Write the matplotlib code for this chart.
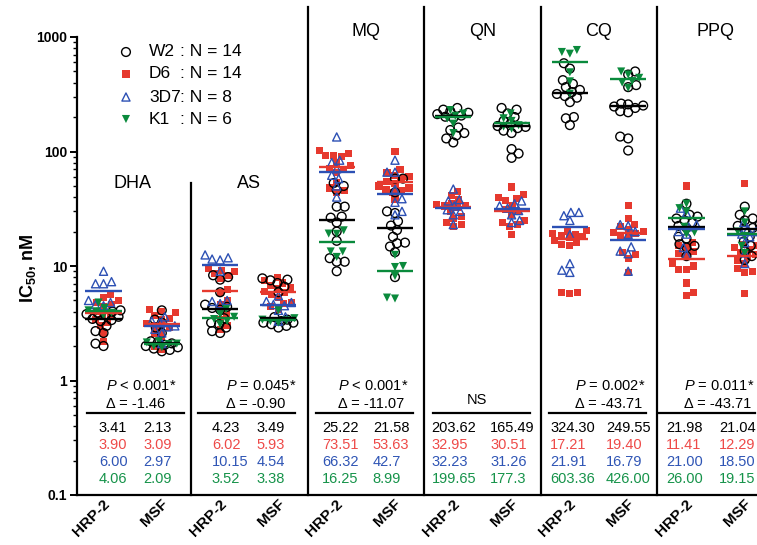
import numpy as np
import matplotlib
matplotlib.use("Agg")
import matplotlib.pyplot as plt
from matplotlib.transforms import blended_transform_factory, ScaledTranslation

plt.rcParams['font.family'] = ['Liberation Sans', 'DejaVu Sans']
plt.rcParams['mathtext.fontset'] = 'custom'
plt.rcParams['mathtext.rm'] = 'Liberation Sans'
plt.rcParams['mathtext.it'] = 'Liberation Sans:italic'
plt.rcParams['mathtext.bf'] = 'Liberation Sans:bold'

# ---------------- data ----------------
DRUGS = ["DHA", "AS", "MQ", "QN", "CQ", "PPQ"]
SAMPLES = ["HRP-2", "MSF"]
STRAINS = ["W2", "D6", "3D7", "K1"]
STRAIN_N = ["14", "14", "8", "6"]

DHA_HRP2_W2 = [4.1, 4.0, 3.9, 3.8, 3.7, 3.6, 3.45, 3.37, 3.3, 3.0, 2.7, 2.6, 2.1, 2.0]
DHA_HRP2_D6 = [5.6, 5.3, 5.0, 4.8, 4.6, 4.4, 4.0, 3.8, 3.6, 3.4, 3.2, 3.0, 2.6, 2.2]
DHA_HRP2_3D7 = [9.0, 7.3, 7.0, 7.0, 5.0, 4.8, 4.6, 4.5]
DHA_HRP2_K1 = [4.8, 4.3, 4.1, 4.02, 3.9, 3.7]
DHA_MSF_W2 = [4.1, 3.4, 3.2, 2.9, 2.6, 2.2, 2.15, 2.11, 2.05, 2.0, 1.95, 1.9, 1.85, 1.8]
DHA_MSF_D6 = [4.2, 4.0, 3.9, 3.7, 3.5, 3.4, 3.13, 3.05, 2.9, 2.8, 2.6, 2.4, 2.0, 1.85]
DHA_MSF_3D7 = [3.6, 3.3, 3.2, 3.0, 2.94, 2.8, 2.6, 2.1]
DHA_MSF_K1 = [2.2, 2.15, 2.1, 2.08, 2.0, 1.95]

AS_HRP2_W2 = [8.3, 8.0, 7.6, 5.9, 4.6, 4.4, 4.3, 4.16, 3.5, 3.2, 3.1, 2.9, 2.7, 2.6]
AS_HRP2_D6 = [9.5, 9.2, 9.0, 8.6, 8.2, 7.8, 6.2, 5.84, 5.0, 4.6, 3.8, 3.4, 3.0, 2.8]
AS_HRP2_3D7 = [12.5, 11.8, 11.5, 11.3, 9.0, 5.0, 4.9, 4.7]
AS_HRP2_K1 = [4.2, 3.8, 3.6, 3.44, 3.3, 3.1]
AS_MSF_W2 = [7.8, 7.6, 7.5, 7.1, 6.6, 5.9, 3.58, 3.4, 3.3, 3.2, 3.2, 3.1, 3.0, 2.9]
AS_MSF_D6 = [8.0, 7.5, 7.1, 6.8, 6.5, 6.3, 6.0, 5.9, 5.6, 5.3, 4.8, 4.7, 4.4, 4.2]
AS_MSF_3D7 = [5.5, 4.9, 4.8, 4.6, 4.5, 4.1, 3.6, 3.3]
AS_MSF_K1 = [4.1, 3.5, 3.4, 3.35, 3.3, 3.2]

MQ_HRP2_W2 = [53, 50, 46, 33, 33, 27, 26.44, 24, 20, 16.6, 11.7, 10.9, 10.9, 9.0]
MQ_HRP2_D6 = [102, 96, 93, 93, 90, 80, 76, 71, 70, 66, 54, 48, 46, 44]
MQ_HRP2_3D7 = [134, 84, 80, 70.6, 62, 58, 50, 40]
MQ_HRP2_K1 = [20.5, 19.2, 19.1, 13.4, 13.4, 12]
MQ_MSF_W2 = [58, 58, 44, 30, 29, 24.6, 22.56, 20.6, 18, 16, 15.8, 14.8, 13.2, 8]
MQ_MSF_D6 = [100, 69, 66, 62, 60, 58, 55, 52.26, 50, 48, 47, 46, 44, 38]
MQ_MSF_3D7 = [84, 66, 66, 46.7, 38.7, 36, 30, 28]
MQ_MSF_K1 = [12.5, 10, 9.8, 8.18, 5.3, 5.2]

QN_HRP2_W2 = [240, 232, 225, 218, 212, 206, 201.24, 196, 162, 154, 145, 138, 130, 120]
QN_HRP2_D6 = [45, 41, 38, 35, 34.5, 34, 33.4, 32.5, 30, 27, 26, 24, 23, 22]
QN_HRP2_3D7 = [47, 38, 37, 33.46, 31, 30, 28, 23]
QN_HRP2_K1 = [230, 215, 205, 194.3, 175, 145]
QN_MSF_W2 = [240, 232, 215, 200, 185, 175, 166.98, 164, 160, 152, 145, 105, 96, 88]
QN_MSF_D6 = [49, 42, 40, 39, 37, 34, 31.22, 29.8, 28, 25, 24, 23, 22, 19]
QN_MSF_3D7 = [37, 35, 33.5, 32.02, 30.5, 28, 25, 24]
QN_MSF_K1 = [215, 195, 185, 169.6, 165, 158]

CQ_HRP2_W2 = [590, 530, 420, 390, 365, 345, 330.6, 318, 305, 295, 270, 200, 195, 170]
CQ_HRP2_D6 = [20.5, 20, 19.4, 19, 18.5, 18, 17.6, 16.82, 16.2, 15.5, 15, 5.9, 5.9, 5.8]
CQ_HRP2_3D7 = [29.4, 29.4, 27.5, 25, 18.82, 10.5, 9.2, 8.8]
CQ_HRP2_K1 = [770, 740, 715, 491.7, 410, 320]
CQ_MSF_W2 = [500, 470, 380, 365, 262, 258, 252, 247.1, 240, 225, 220, 135, 130, 102]
CQ_MSF_D6 = [34, 26, 23, 22, 21, 20, 19.7, 19.1, 18.5, 18, 13, 12.6, 11.7, 8.8]
CQ_MSF_3D7 = [23, 22.5, 20, 18.88, 14.7, 13.5, 12.8, 9]
CQ_MSF_K1 = [500, 470, 440, 412, 400, 360]

PPQ_HRP2_W2 = [35, 28, 27, 26, 25, 24, 22.4, 21.56, 18, 17.4, 15.5, 15, 14.5, 12.2]
PPQ_HRP2_D6 = [50, 16, 15, 14.5, 13.5, 12.8, 12.4, 10.42, 10, 9.4, 9.4, 7.1, 5.9, 5.5]
PPQ_HRP2_3D7 = [32, 29, 23, 22, 20, 19, 14.5, 12.6]
PPQ_HRP2_K1 = [35, 32, 30, 22, 19.7, 19]
PPQ_MSF_W2 = [33, 28, 26, 25, 23, 22.4, 21.5, 20.58, 18, 16.4, 15, 13.5, 12.2, 11.3]
PPQ_MSF_D6 = [53, 15.5, 15, 14.5, 14, 13, 12.5, 12.08, 11.2, 10.5, 9.5, 9, 8.8, 5.8]
PPQ_MSF_3D7 = [24, 21, 20, 19, 18, 16, 13, 10.5]
PPQ_MSF_K1 = [30, 24, 20, 18.3, 15, 13]

# medians (table values), order: DHA HRP-2, DHA MSF, AS HRP-2, AS MSF, ...
MED_W2 = ["3.41", "2.13", "4.23", "3.49", "25.22", "21.58", "203.62", "165.49", "324.30", "249.55", "21.98", "21.04"]
MED_D6 = ["3.90", "3.09", "6.02", "5.93", "73.51", "53.63", "32.95", "30.51", "17.21", "19.40", "11.41", "12.29"]
MED_3D7 = ["6.00", "2.97", "10.15", "4.54", "66.32", "42.7", "32.23", "31.26", "21.91", "16.79", "21.00", "18.50"]
MED_K1 = ["4.06", "2.09", "3.52", "3.38", "16.25", "8.99", "199.65", "177.3", "603.36", "426.00", "26.00", "19.15"]

P_TEXT = ["< 0.001*", "= 0.045*", "< 0.001*", None, "= 0.002*", "= 0.011*"]
DELTA_TEXT = ["-1.46", "-0.90", "-11.07", None, "-43.71", "-43.71"]

COLUMNS = [
    [DHA_HRP2_W2, DHA_HRP2_D6, DHA_HRP2_3D7, DHA_HRP2_K1],
    [DHA_MSF_W2, DHA_MSF_D6, DHA_MSF_3D7, DHA_MSF_K1],
    [AS_HRP2_W2, AS_HRP2_D6, AS_HRP2_3D7, AS_HRP2_K1],
    [AS_MSF_W2, AS_MSF_D6, AS_MSF_3D7, AS_MSF_K1],
    [MQ_HRP2_W2, MQ_HRP2_D6, MQ_HRP2_3D7, MQ_HRP2_K1],
    [MQ_MSF_W2, MQ_MSF_D6, MQ_MSF_3D7, MQ_MSF_K1],
    [QN_HRP2_W2, QN_HRP2_D6, QN_HRP2_3D7, QN_HRP2_K1],
    [QN_MSF_W2, QN_MSF_D6, QN_MSF_3D7, QN_MSF_K1],
    [CQ_HRP2_W2, CQ_HRP2_D6, CQ_HRP2_3D7, CQ_HRP2_K1],
    [CQ_MSF_W2, CQ_MSF_D6, CQ_MSF_3D7, CQ_MSF_K1],
    [PPQ_HRP2_W2, PPQ_HRP2_D6, PPQ_HRP2_3D7, PPQ_HRP2_K1],
    [PPQ_MSF_W2, PPQ_MSF_D6, PPQ_MSF_3D7, PPQ_MSF_K1],
]
MEDIANS = [MED_W2, MED_D6, MED_3D7, MED_K1]

# ---------------- styles ----------------
RED = '#E6392E'
BLUE = '#2C50B4'
GREEN = '#0A8A3C'
TXT_COLORS = ['black', '#EE4A48', '#2F55B5', '#16934A']
STYLES = [
    dict(marker='o', s=40, facecolors='none', edgecolors='black', linewidths=1.0, zorder=3),
    dict(marker='s', s=26, facecolors=RED, edgecolors='none', zorder=2),
    dict(marker='^', s=34, facecolors='none', edgecolors=BLUE, linewidths=1.0, zorder=4),
    dict(marker='v', s=34, facecolors=GREEN, edgecolors='none', zorder=5),
]
LINE_COLORS = ['black', RED, BLUE, GREEN]

PX_X = 58.3    # px per x unit
PX_Y = 114.5   # px per decade


def swarm(values, seed_sign=1, min_d=7.5, max_off=17):
    ys = PX_Y * np.log10(np.asarray(values, float))
    order = np.argsort(ys)
    placed = []
    offs = np.zeros(len(ys))
    for k, i in enumerate(order):
        sgn = seed_sign if k % 2 == 0 else -seed_sign
        cands = sorted(np.arange(-max_off, max_off + 0.1, 1.0), key=lambda c: (abs(c), -sgn * c))
        best_c, best_d = 0.0, -1.0
        for c in cands:
            if placed:
                d = min((c - xo) ** 2 + (ys[i] - yo) ** 2 for xo, yo in placed)
            else:
                d = np.inf
            if d >= min_d ** 2:
                best_c = c
                break
            if d > best_d:
                best_d, best_c = d, c
        placed.append((best_c, ys[i]))
        offs[i] = best_c
    return offs / PX_X


W, H = 757, 545
fig = plt.figure(figsize=(W / 100, H / 100), dpi=100)
ax = fig.add_axes([77 / W, 50 / H, (W - 77) / W, 488 / H])
ax.set_yscale('log')
ax.set_ylim(0.1, 10 ** ((495 - 7) / PX_Y - 1))
ax.set_xlim(0.045, 11.71)

for spine in ['top', 'right']:
    ax.spines[spine].set_visible(False)
ax.spines['left'].set_bounds(0.1, 1000)
ax.spines['left'].set_linewidth(1.6)
ax.spines['bottom'].set_linewidth(1.6)

ax.set_yticks([0.1, 1, 10, 100, 1000])
ax.set_yticklabels(['0.1', '1', '10', '100', '1000'], fontweight='bold', fontsize=10)
ax.tick_params(axis='y', which='major', length=5, width=1.4, pad=2)
ax.tick_params(axis='y', which='minor', length=3, width=1.0)

centers = []
for k in range(len(DRUGS)):
    centers += [2 * k + 0.5, 2 * k + 1.5]
ax.set_xticks(centers)
ax.set_xticklabels(SAMPLES * len(DRUGS), rotation=45, ha='right', va='center',
                   rotation_mode='anchor', fontweight='bold', fontsize=11)
ax.tick_params(axis='x', length=0, pad=5)
shift = ScaledTranslation(4 / 100, 0, fig.dpi_scale_trans)
for lab in ax.get_xticklabels():
    lab.set_transform(lab.get_transform() + shift)

# points and median lines
for ci, col in enumerate(COLUMNS):
    xc = centers[ci]
    for si, vals in enumerate(col):
        offs = swarm(vals, seed_sign=1 if (si + ci) % 2 == 0 else -1)
        ax.scatter(xc + offs, vals, **STYLES[si])
    for si in range(4):
        m = float(MEDIANS[si][ci])
        ax.plot([xc - 0.31, xc + 0.31], [m, m], color=LINE_COLORS[si], lw=1.7,
                zorder=6, solid_capstyle='butt')

# dividers
tr = blended_transform_factory(ax.transData, ax.transAxes)
for k in range(1, len(DRUGS)):
    top = (495 - 183) / 488 if k == 1 else 1.0
    ax.plot([2 * k, 2 * k], [0, top], transform=tr, color='black', lw=1.6, clip_on=False)

# drug names
for k, d in enumerate(DRUGS):
    yy = (495 - 183) / 488 if k < 2 else (495 - 31) / 488
    ax.text(2 * k + 1, yy, d, transform=tr, ha='center', va='center', fontsize=13)

# summary table
P_OFF = [0.54, 0.60, 0.52, None, 0.59, 0.46]
SEP_OFF = [0.216, 0.12, 0.144, 0.151, 0.141, 0.01]
COL_OFF_H = [0.42, 0.36, 0.25, 0.13, 0.16, 0.15]
COL_OFF_M = [1.19, 1.13, 1.12, 1.13, 1.12, 1.06]
fy = lambda py: (495 - py) / 488
ROW_Y = [428, 445, 462, 479]
for k in range(len(DRUGS)):
    x0 = 2 * k
    if P_TEXT[k] is not None:
        ax.text(x0 + P_OFF[k], fy(386), r'$P$ ' + P_TEXT[k], transform=tr,
                ha='left', va='center', fontsize=10.5)
        ax.text(x0 + P_OFF[k], fy(404), '\u0394 = ' + DELTA_TEXT[k], transform=tr,
                ha='left', va='center', fontsize=10.5)
    else:
        ax.text(x0 + 0.91, fy(400), 'NS', transform=tr, ha='center', va='center', fontsize=10.5)
    ax.plot([x0 + SEP_OFF[k], x0 + SEP_OFF[k] + 1.66], [fy(413), fy(413)], transform=tr,
            color='black', lw=1.6, clip_on=True)
    for si in range(4):
        ax.text(x0 + COL_OFF_H[k], fy(ROW_Y[si]), MEDIANS[si][2 * k], transform=tr,
                ha='left', va='center', fontsize=10.5, color=TXT_COLORS[si])
        ax.text(x0 + COL_OFF_M[k], fy(ROW_Y[si]), MEDIANS[si][2 * k + 1], transform=tr,
                ha='left', va='center', fontsize=10.5, color=TXT_COLORS[si], clip_on=False)

# legend
LEG_Y = [52, 74, 97, 119]
for si, name in enumerate(STRAINS):
    st = dict(STYLES[si])
    st['zorder'] = 7
    ax.scatter([0.885], [fy(LEG_Y[si])], transform=tr, clip_on=False, **st)
    ax.text(1.28, fy(LEG_Y[si]), name, transform=tr, ha='left', va='center', fontsize=12.5)
    ax.text(1.82, fy(LEG_Y[si]), ': N = ' + STRAIN_N[si], transform=tr, ha='left',
            va='center', fontsize=12.5)

fig.text(28 / W, 1 - 268 / H, r'IC$_{\mathbf{50}}$, nM', rotation=90, ha='center',
         va='center', fontsize=13, fontweight='bold')

fig.savefig('out.png', dpi=100)
